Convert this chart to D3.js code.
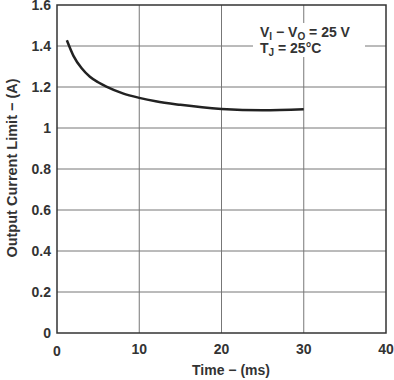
<!DOCTYPE html>
<html>
<head>
<meta charset="utf-8">
<script src="https://cdn.jsdelivr.net/npm/d3@7"></script>
<style>
  body { margin: 0; background: #fff; }
  text { font-family: "Liberation Sans", Arial, sans-serif; font-weight: bold; fill: #333; }
</style>
</head>
<body>
<div id="chart"></div>
<script>
// time (ms) vs output current limit (A)
const tijd = [1.2, 2, 3, 4, 5, 6, 8, 10, 12, 15, 20, 25, 30];
const stroom = [1.428, 1.352, 1.291, 1.25, 1.223, 1.202, 1.169, 1.147, 1.13, 1.113, 1.093, 1.086, 1.091];
const xTicks = [0, 10, 20, 30, 40];
const yTicks = [0, 0.2, 0.4, 0.6, 0.8, 1, 1.2, 1.4, 1.6];

const width = 394, height = 380;
const plotLeft = 57, plotRight = 386, plotTop = 5, plotBottom = 333;

const x = d3.scaleLinear().domain([0, 40]).range([plotLeft, plotRight]);
const y = d3.scaleLinear().domain([0, 1.6]).range([plotBottom, plotTop]);

const svg = d3.select("#chart").append("svg")
  .attr("width", width)
  .attr("height", height);

// grid
svg.append("g")
  .selectAll("line")
  .data(xTicks.slice(1, -1))
  .join("line")
  .attr("x1", d => x(d)).attr("x2", d => x(d))
  .attr("y1", plotTop).attr("y2", plotBottom)
  .attr("stroke", "#777").attr("stroke-width", 1);

svg.append("g")
  .selectAll("line")
  .data(yTicks.slice(1, -1))
  .join("line")
  .attr("x1", plotLeft).attr("x2", plotRight)
  .attr("y1", d => y(d)).attr("y2", d => y(d))
  .attr("stroke", "#777").attr("stroke-width", 1);

// annotation box (hides the grid behind the text)
svg.append("rect")
  .attr("x", 253).attr("y", 23)
  .attr("width", 112).attr("height", 34)
  .attr("fill", "#fff");

const note = svg.append("text").attr("font-size", 14);
note.append("tspan").attr("x", 260).attr("y", 37).text("V");
note.append("tspan").attr("font-size", 10).attr("dy", 3).text("I");
note.append("tspan").attr("dy", -3).text(" \u2212 V");
note.append("tspan").attr("font-size", 10).attr("dy", 3).text("O");
note.append("tspan").attr("dy", -3).text(" = 25 V");

const note2 = svg.append("text").attr("font-size", 14);
note2.append("tspan").attr("x", 260).attr("y", 53).text("T");
note2.append("tspan").attr("font-size", 10).attr("dy", 3).text("J");
note2.append("tspan").attr("dy", -3).text(" = 25\u00b0C");

// curve
const lijn = d3.line()
  .x((d, i) => x(tijd[i]))
  .y(d => y(d))
  .curve(d3.curveMonotoneX);

svg.append("path")
  .datum(stroom)
  .attr("d", lijn)
  .attr("fill", "none")
  .attr("stroke", "#222")
  .attr("stroke-width", 2.5);

// frame
svg.append("rect")
  .attr("x", plotLeft).attr("y", plotTop)
  .attr("width", plotRight - plotLeft).attr("height", plotBottom - plotTop)
  .attr("fill", "none")
  .attr("stroke", "#333").attr("stroke-width", 1.5);

// tick labels
svg.append("g")
  .selectAll("text")
  .data(xTicks)
  .join("text")
  .attr("x", d => x(d))
  .attr("y", d => d === 0 ? 356 : 354)
  .attr("text-anchor", "middle")
  .attr("font-size", 14)
  .text(d => d);

svg.append("g")
  .selectAll("text")
  .data(yTicks)
  .join("text")
  .attr("x", 51)
  .attr("y", d => y(d) + 5)
  .attr("text-anchor", "end")
  .attr("font-size", 14)
  .text(d => d);

// axis titles
svg.append("text")
  .attr("x", 231)
  .attr("y", 375)
  .attr("text-anchor", "middle")
  .attr("font-size", 14)
  .text("Time \u2212 (ms)");

svg.append("text")
  .attr("transform", "translate(16.5,168) rotate(-90)")
  .attr("text-anchor", "middle")
  .attr("font-size", 14.5)
  .text("Output Current Limit \u2212 (A)");
</script>
</body>
</html>
